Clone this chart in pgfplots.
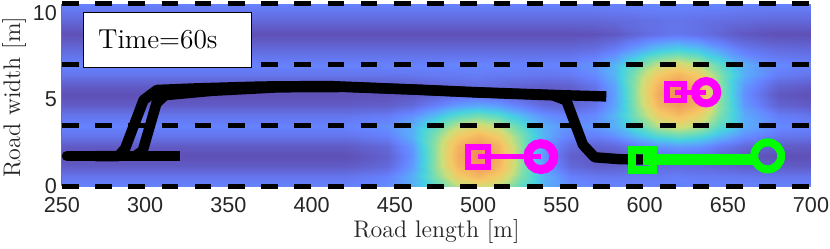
\documentclass[border=0pt]{standalone}
\usepackage{fontspec}
\usepackage{pgfplots}
\pgfplotsset{compat=1.18}
\newfontfamily\tickfont{Liberation Sans}
\definecolor{axgray}{RGB}{38,38,38}
\definecolor{mag}{rgb}{1,0,1}
\definecolor{grn}{rgb}{0,1,0}
\begin{document}
\begin{tikzpicture}
\begin{axis}[
  at={(0pt,0pt)}, anchor=south west,
  scale only axis, width=374.5pt, height=91.3pt,
  xmin=250, xmax=700, ymin=0, ymax=10.5,
  xtick={250,300,...,700}, ytick={0,5,10},
  axis x line*=bottom, axis y line*=left,
  axis line style={draw=black!55, line width=0.5pt},
  major tick style={draw=none},
  clip=false,
  /pgf/number format/assume math mode=true,
  ticklabel style={font=\tickfont\fontsize{10.8pt}{12pt}\selectfont, text=axgray},
  xticklabel style={yshift=-2pt},
  yticklabel style={xshift=1pt},
  label style={font=\fontsize{12pt}{14pt}\selectfont, text=axgray},
  xlabel={Road length [m]},
  ylabel={Road width [m]},
  xlabel style={at={(axis description cs:0.5,-0.244)}, anchor=center},
  ylabel style={at={(axis description cs:-0.064,0.49)}, anchor=center},
  colormap={road}{rgb255(0pt)=(95,80,182); rgb255(18pt)=(102,130,255); rgb255(28pt)=(90,170,250); rgb255(38pt)=(70,210,225); rgb255(50pt)=(120,222,175); rgb255(63pt)=(205,222,120); rgb255(76pt)=(245,200,100); rgb255(100pt)=(240,140,88)},
  point meta min=0, point meta max=1,
]
% heat map
\addplot[surf, shader=interp, mesh/rows=17, mesh/cols=21, point meta=explicit] coordinates {
(250,0)[.18] (420,0)[.18] (445,0)[.21] (460,0)[.29] (475,0)[.45] (488,0)[.61] (500,0)[.67] (512,0)[.61] (525,0)[.45] (540,0)[.29] (555,0)[.21] (570,0)[.19] (582,0)[.18] (595,0)[.18] (608,0)[.18] (620,0)[.18] (632,0)[.18] (645,0)[.18] (660,0)[.18] (680,0)[.18] (700,0)[.18]

(250,0.6)[.13] (420,0.6)[.13] (445,0.6)[.17] (460,0.6)[.29] (475,0.6)[.52] (488,0.6)[.74] (500,0.6)[.83] (512,0.6)[.74] (525,0.6)[.52] (540,0.6)[.29] (555,0.6)[.17] (570,0.6)[.14] (582,0.6)[.14] (595,0.6)[.15] (608,0.6)[.15] (620,0.6)[.16] (632,0.6)[.15] (645,0.6)[.15] (660,0.6)[.14] (680,0.6)[.13] (700,0.6)[.13]

(250,1.2)[.04] (420,1.2)[.04] (445,1.2)[.09] (460,1.2)[.24] (475,1.2)[.55] (488,1.2)[.84] (500,1.2)[.95] (512,1.2)[.84] (525,1.2)[.55] (540,1.2)[.24] (555,1.2)[.09] (570,1.2)[.05] (582,1.2)[.06] (595,1.2)[.07] (608,1.2)[.09] (620,1.2)[.10] (632,1.2)[.09] (645,1.2)[.07] (660,1.2)[.05] (680,1.2)[.04] (700,1.2)[.04]

(250,1.75)[0] (420,1.75)[0] (445,1.75)[.06] (460,1.75)[.22] (475,1.75)[.55] (488,1.75)[.87] (500,1.75)[1] (512,1.75)[.87] (525,1.75)[.55] (540,1.75)[.22] (555,1.75)[.06] (570,1.75)[.02] (582,1.75)[.03] (595,1.75)[.07] (608,1.75)[.11] (620,1.75)[.12] (632,1.75)[.11] (645,1.75)[.07] (660,1.75)[.03] (680,1.75)[0] (700,1.75)[0]

(250,2.3)[.04] (420,2.3)[.04] (445,2.3)[.09] (460,2.3)[.24] (475,2.3)[.55] (488,2.3)[.84] (500,2.3)[.95] (512,2.3)[.84] (525,2.3)[.55] (540,2.3)[.24] (555,2.3)[.10] (570,2.3)[.07] (582,2.3)[.09] (595,2.3)[.16] (608,2.3)[.23] (620,2.3)[.25] (632,2.3)[.23] (645,2.3)[.16] (660,2.3)[.09] (680,2.3)[.05] (700,2.3)[.04]

(250,2.9)[.13] (420,2.9)[.13] (445,2.9)[.17] (460,2.9)[.29] (475,2.9)[.52] (488,2.9)[.74] (500,2.9)[.83] (512,2.9)[.74] (525,2.9)[.52] (540,2.9)[.29] (555,2.9)[.18] (570,2.9)[.17] (582,2.9)[.22] (595,2.9)[.32] (608,2.9)[.42] (620,2.9)[.46] (632,2.9)[.42] (645,2.9)[.32] (660,2.9)[.21] (680,2.9)[.14] (700,2.9)[.13]

(250,3.5)[.18] (420,3.5)[.18] (445,3.5)[.21] (460,3.5)[.29] (475,3.5)[.45] (488,3.5)[.61] (500,3.5)[.67] (512,3.5)[.61] (525,3.5)[.45] (540,3.5)[.29] (555,3.5)[.22] (570,3.5)[.23] (582,3.5)[.30] (595,3.5)[.44] (608,3.5)[.60] (620,3.5)[.66] (632,3.5)[.60] (645,3.5)[.44] (660,3.5)[.29] (680,3.5)[.20] (700,3.5)[.18]

(250,4.1)[.13] (420,4.1)[.13] (445,4.1)[.15] (460,4.1)[.21] (475,4.1)[.32] (488,4.1)[.43] (500,4.1)[.48] (512,4.1)[.43] (525,4.1)[.32] (540,4.1)[.21] (555,4.1)[.17] (570,4.1)[.20] (582,4.1)[.31] (595,4.1)[.51] (608,4.1)[.73] (620,4.1)[.81] (632,4.1)[.73] (645,4.1)[.51] (660,4.1)[.28] (680,4.1)[.16] (700,4.1)[.13]

(250,4.7)[.04] (420,4.7)[.04] (445,4.7)[.05] (460,4.7)[.09] (475,4.7)[.17] (488,4.7)[.24] (500,4.7)[.27] (512,4.7)[.24] (525,4.7)[.17] (540,4.7)[.09] (555,4.7)[.07] (570,4.7)[.13] (582,4.7)[.27] (595,4.7)[.54] (608,4.7)[.83] (620,4.7)[.94] (632,4.7)[.83] (645,4.7)[.54] (660,4.7)[.24] (680,4.7)[.07] (700,4.7)[.04]

(250,5.25)[0] (420,5.25)[0] (445,5.25)[.01] (460,5.25)[.03] (475,5.25)[.07] (488,5.25)[.11] (500,5.25)[.13] (512,5.25)[.11] (525,5.25)[.07] (540,5.25)[.03] (555,5.25)[.03] (570,5.25)[.10] (582,5.25)[.26] (595,5.25)[.55] (608,5.25)[.87] (620,5.25)[1] (632,5.25)[.87] (645,5.25)[.55] (660,5.25)[.22] (680,5.25)[.03] (700,5.25)[0]

(250,5.8)[.04] (420,5.8)[.04] (445,5.8)[.04] (460,5.8)[.05] (475,5.8)[.07] (488,5.8)[.09] (500,5.8)[.10] (512,5.8)[.09] (525,5.8)[.07] (540,5.8)[.05] (555,5.8)[.06] (570,5.8)[.13] (582,5.8)[.27] (595,5.8)[.55] (608,5.8)[.84] (620,5.8)[.96] (632,5.8)[.84] (645,5.8)[.55] (660,5.8)[.24] (680,5.8)[.07] (700,5.8)[.04]

(250,6.4)[.13] (420,6.4)[.13] (445,6.4)[.13] (460,6.4)[.14] (475,6.4)[.15] (488,6.4)[.15] (500,6.4)[.16] (512,6.4)[.15] (525,6.4)[.15] (540,6.4)[.14] (555,6.4)[.15] (570,6.4)[.20] (582,6.4)[.31] (595,6.4)[.53] (608,6.4)[.75] (620,6.4)[.84] (632,6.4)[.75] (645,6.4)[.53] (660,6.4)[.29] (680,6.4)[.16] (700,6.4)[.13]

(250,7)[.18] (420,7)[.18] (445,7)[.18] (460,7)[.18] (475,7)[.18] (488,7)[.19] (500,7)[.19] (512,7)[.19] (525,7)[.18] (540,7)[.18] (555,7)[.19] (570,7)[.23] (582,7)[.31] (595,7)[.46] (608,7)[.62] (620,7)[.69] (632,7)[.62] (645,7)[.46] (660,7)[.29] (680,7)[.20] (700,7)[.18]

(250,7.9)[.09] (420,7.9)[.09] (445,7.9)[.09] (460,7.9)[.09] (475,7.9)[.09] (488,7.9)[.09] (500,7.9)[.09] (512,7.9)[.09] (525,7.9)[.09] (540,7.9)[.09] (555,7.9)[.09] (570,7.9)[.11] (582,7.9)[.16] (595,7.9)[.25] (608,7.9)[.34] (620,7.9)[.38] (632,7.9)[.34] (645,7.9)[.25] (660,7.9)[.15] (680,7.9)[.10] (700,7.9)[.09]

(250,8.75)[0] (420,8.75)[0] (445,8.75)[0] (460,8.75)[0] (475,8.75)[0] (488,8.75)[0] (500,8.75)[0] (512,8.75)[0] (525,8.75)[0] (540,8.75)[0] (555,8.75)[0] (570,8.75)[.01] (582,8.75)[.03] (595,8.75)[.08] (608,8.75)[.12] (620,8.75)[.14] (632,8.75)[.12] (645,8.75)[.08] (660,8.75)[.03] (680,8.75)[0] (700,8.75)[0]

(250,9.6)[.09] (420,9.6)[.09] (445,9.6)[.09] (460,9.6)[.09] (475,9.6)[.09] (488,9.6)[.09] (500,9.6)[.09] (512,9.6)[.09] (525,9.6)[.09] (540,9.6)[.09] (555,9.6)[.09] (570,9.6)[.09] (582,9.6)[.10] (595,9.6)[.11] (608,9.6)[.12] (620,9.6)[.13] (632,9.6)[.12] (645,9.6)[.11] (660,9.6)[.10] (680,9.6)[.09] (700,9.6)[.09]

(250,10.5)[.18] (420,10.5)[.18] (445,10.5)[.18] (460,10.5)[.18] (475,10.5)[.18] (488,10.5)[.18] (500,10.5)[.18] (512,10.5)[.18] (525,10.5)[.18] (540,10.5)[.18] (555,10.5)[.18] (570,10.5)[.18] (582,10.5)[.18] (595,10.5)[.19] (608,10.5)[.19] (620,10.5)[.19] (632,10.5)[.19] (645,10.5)[.19] (660,10.5)[.18] (680,10.5)[.18] (700,10.5)[.18]
};
% lane lines
\addplot[black, line width=2.5pt, dash pattern=on 8.3pt off 8.3pt] coordinates {(250,0) (700,0)};
\addplot[black, line width=2.5pt, dash pattern=on 8.3pt off 8.3pt] coordinates {(250,3.5) (700,3.5)};
\addplot[black, line width=2.5pt, dash pattern=on 8.3pt off 8.3pt] coordinates {(250,7) (700,7)};
\addplot[black, line width=2.5pt, dash pattern=on 8.3pt off 8.3pt] coordinates {(250,10.5) (700,10.5)};
% trajectories
\addplot[black, line width=5.2pt, line cap=round] coordinates {(253,1.75) (265,1.75)};
\addplot[black, line width=5.2pt] coordinates {(260,1.75) (321,1.75)};
\addplot[black, line width=5.2pt, line join=round] coordinates {(270,1.75) (284,1.75) (288,2.2) (299,4.97) (307,5.55) (330,5.64) (370,5.75) (410,5.78) (450,5.62) (500,5.42) (550,5.25) (577,5.18)};
\addplot[black, line width=5.2pt, line join=round] coordinates {(294,1.75) (298.5,2.05) (306.8,4.8) (312,5.25) (340,5.5) (380,5.7) (420,5.72) (460,5.58) (500,5.4) (545,5.24) (553,4.95) (563,2.4) (570,1.68) (585,1.57) (599,1.55)};
% magenta vehicle 1
\addplot[mag, line width=2.2pt] coordinates {(500,1.72) (537.7,1.72)};
\addplot[only marks, mark=square, mark size=5pt, mark options={draw=mag, line width=3pt, fill=none}] coordinates {(500,1.72)};
\addplot[only marks, mark=o, mark size=6.5pt, mark options={draw=mag, line width=4.5pt, fill=none}] coordinates {(537.7,1.72)};
% magenta vehicle 2
\addplot[mag, line width=2.6pt] coordinates {(618.5,5.42) (637,5.42)};
\addplot[only marks, mark=square, mark size=4.2pt, mark options={draw=mag, line width=2.8pt, fill=none}] coordinates {(618.5,5.42)};
\addplot[only marks, mark=o, mark size=5.6pt, mark options={draw=mag, line width=4pt, fill=none}] coordinates {(637,5.42)};
% green vehicle
\addplot[grn, line width=5.5pt] coordinates {(599,1.55) (667,1.55)};
\addplot[only marks, mark=square, mark size=5.2pt, mark options={draw=grn, line width=4pt, fill=none}] coordinates {(599,1.52)};
\addplot[only marks, mark=o, mark size=6.75pt, mark options={draw=grn, line width=4pt, fill=none}] coordinates {(674,1.76)};
% time box
\node[draw=black, line width=0.5pt, fill=white, anchor=north west, text width=69pt, inner xsep=7.5pt, minimum height=27.2pt, align=left, font=\fontsize{13.7pt}{16pt}\selectfont] at (axis cs:262.4,10.02) {Time=60s};
\end{axis}
\pgfresetboundingbox
\path[use as bounding box] (-31pt,-31.25pt) rectangle (384pt,93.25pt);
\end{tikzpicture}
\end{document}
